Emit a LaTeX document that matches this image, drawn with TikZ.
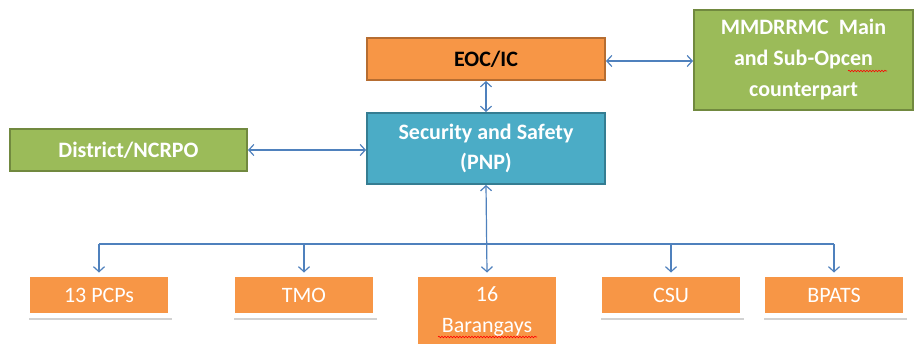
\documentclass[tikz,border=0pt]{standalone}
\usepackage{fontspec}
\setmainfont{Carlito}
\usetikzlibrary{arrows.meta,shadows,decorations.pathmorphing}
\definecolor{orfill}{HTML}{F79646}
\definecolor{ordraw}{HTML}{B66D31}
\definecolor{tefill}{HTML}{4BACC6}
\definecolor{tedraw}{HTML}{357D92}
\definecolor{grfill}{HTML}{9BBB59}
\definecolor{grdraw}{HTML}{71893F}
\definecolor{arr}{HTML}{4F81BD}
\tikzset{
  x=1pt,y=1pt,
  topbox/.style={draw, line width=2pt, inner sep=0pt, align=center,
    font=\fontsize{22}{30}\selectfont\bfseries},
  botbox/.style={draw=white, line width=4.5pt, fill=orfill, text=white, inner sep=0pt,
    align=center, minimum width=142.5pt, font=\fontsize{22}{31}\selectfont,
    drop shadow={shadow xshift=1.5pt, shadow yshift=-4.5pt, opacity=0.25, fill=black!70}},
  conn/.style={draw=arr, line width=1.2pt, {Straight Barb[length=5pt,width=11pt]}-{Straight Barb[length=5pt,width=11pt]}},
  drop/.style={draw=arr, line width=1.2pt, -{Straight Barb[length=5pt,width=11pt]}},
  spell/.style={draw=red, line width=0.6pt, decorate, decoration={snake, segment length=3pt, amplitude=0.8pt}}
}
\begin{document}
\begin{tikzpicture}
\useasboundingbox (0,0) rectangle (918,-343);
\clip (0,0) rectangle (918,-343);
\fill[white] (0,0) rectangle (918,-343);

\node[topbox, fill=orfill, draw=ordraw, text=black, minimum width=238pt, minimum height=42pt] (eoc) at (486,-59) {EOC/IC};
\node[topbox, fill=tefill, draw=tedraw, text=white, minimum width=238pt, minimum height=71pt] (sec) at (486,-148.5) {Security and Safety\\(PNP)};
\node[topbox, fill=grfill, draw=grdraw, text=white, minimum width=219pt, minimum height=100pt, font=\fontsize{22}{31}\selectfont\bfseries] (mmd) at (803.5,-60) {MMDRRMC\ \ Main\\and Sub-Opcen\\counterpart};
\node[topbox, fill=grfill, draw=grdraw, text=white, minimum width=237pt, minimum height=42pt] (dist) at (128.5,-150) {District/NCRPO};

\node[botbox, minimum height=40.5pt] (pcp) at (99,-295) {13 PCPs};
\node[botbox, minimum height=40.5pt] (tmo) at (304,-295) {TMO};
\node[botbox, minimum height=73.5pt] (bar) at (487,-311.5) {16\\Barangays};
\node[botbox, minimum height=40.5pt] (csu) at (671,-295) {CSU};
\node[botbox, minimum height=40.5pt] (bpa) at (834,-295) {BPATS};

\coordinate (bus) at (0,-244);

\path[conn] (eoc.east |- 0,-61) -- (mmd.west |- 0,-61);
\path[conn] (eoc.south) -- (sec.north);
\path[conn] (dist.east) -- (sec.west |- dist.east);
\path[conn] (sec.south) -- (bar.north);
\draw[arr, line width=1.2pt] (pcp.north |- bus) -- (bpa.north |- bus);
\path[drop] (pcp.north |- bus) -- (pcp.north);
\path[drop] (tmo.north |- bus) -- (tmo.north);
\path[drop] (csu.north |- bus) -- (csu.north);
\path[drop] (bpa.north |- bus) -- (bpa.north);

\path[spell] (848,-71) -- (887,-71);
\path[spell] (438,-337) -- (537,-337);
\end{tikzpicture}
\end{document}
